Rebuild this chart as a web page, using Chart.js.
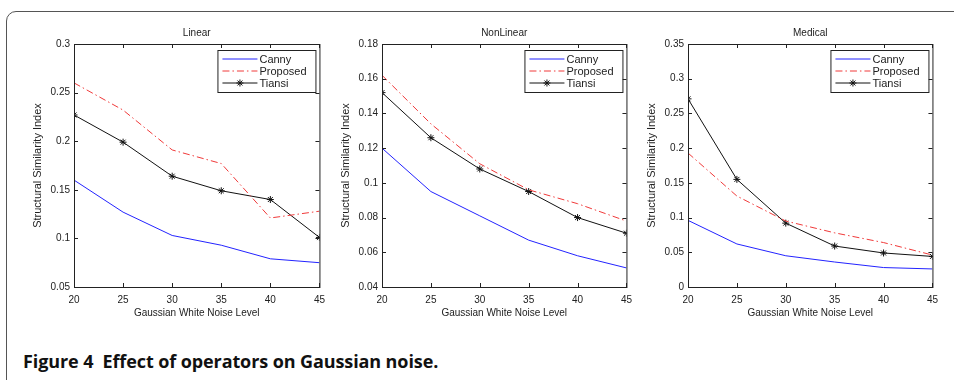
<!DOCTYPE html>
<html>
<head>
<meta charset="utf-8">
<script src="https://cdn.jsdelivr.net/npm/chart.js@4.4.1/dist/chart.umd.min.js"></script>
<style>
  html, body { margin: 0; padding: 0; background: #fff; }
  body { width: 954px; height: 380px; position: relative; overflow: hidden; }
  .frame {
    position: absolute; left: 6px; top: 11px; width: 970px; height: 400px;
    border: 1.5px solid #555; border-radius: 10px;
  }
  .panel { position: absolute; top: 14px; }
  .caption {
    position: absolute; left: 23px; top: 349px;
    font-family: "Open Sans", sans-serif; font-weight: 700; font-size: 18px;
    color: #111; letter-spacing: -0.1px;
  }
</style>
</head>
<body>
<div class="frame"></div>
<div class="panel" style="left:10px"><canvas id="linearChart" width="322" height="309"></canvas></div>
<div class="panel" style="left:318px"><canvas id="nonlinearChart" width="321" height="309"></canvas></div>
<div class="panel" style="left:624px"><canvas id="medicalChart" width="321" height="309"></canvas></div>
<div class="caption">Figure 4&nbsp;&nbsp;Effect of operators on Gaussian noise.</div>

<script>
const noiseLevels = [20, 25, 30, 35, 40, 45];
const seriesNames = ['Canny', 'Proposed', 'Tiansi'];

const linearCanny = [0.160, 0.127, 0.103, 0.093, 0.079, 0.075];
const linearProposed = [0.260, 0.232, 0.191, 0.177, 0.121, 0.128];
const linearTiansi = [0.227, 0.199, 0.164, 0.149, 0.140, 0.101];

const nonlinearCanny = [0.120, 0.095, 0.081, 0.067, 0.058, 0.051];
const nonlinearProposed = [0.162, 0.134, 0.111, 0.096, 0.088, 0.078];
const nonlinearTiansi = [0.152, 0.126, 0.108, 0.095, 0.080, 0.071];

const medicalCanny = [0.096, 0.062, 0.045, 0.036, 0.028, 0.026];
const medicalProposed = [0.193, 0.131, 0.095, 0.078, 0.064, 0.046];
const medicalTiansi = [0.271, 0.155, 0.092, 0.059, 0.049, 0.044];

const xTicks = [20, 25, 30, 35, 40, 45];
const linearYTicks = [0.05, 0.1, 0.15, 0.2, 0.25, 0.3];
const nonlinearYTicks = [0.04, 0.06, 0.08, 0.1, 0.12, 0.14, 0.16, 0.18];
const medicalYTicks = [0, 0.05, 0.1, 0.15, 0.2, 0.25, 0.3, 0.35];

const FONT = '"Liberation Sans", Arial, sans-serif';
const TEXT = '#222';

// box around the plot, inward ticks, panel title and the boxed legend
const matlabAxes = {
    id: 'matlabAxes',
    afterDatasetsDraw(chart, args, opts) {
        const ctx = chart.ctx;
        const a = chart.chartArea;
        const xs = chart.scales.x, ys = chart.scales.y;
        ctx.save();
        ctx.strokeStyle = '#222';
        ctx.lineWidth = 1;
        ctx.strokeRect(a.left + 0.5, a.top + 0.5, a.right - a.left, a.bottom - a.top);

        ctx.beginPath();
        xs.ticks.forEach(t => {
            const px = Math.round(xs.getPixelForValue(t.value)) + 0.5;
            ctx.moveTo(px, a.bottom); ctx.lineTo(px, a.bottom - 4);
            ctx.moveTo(px, a.top); ctx.lineTo(px, a.top + 4);
        });
        ys.ticks.forEach(t => {
            const py = Math.round(ys.getPixelForValue(t.value)) + 0.5;
            ctx.moveTo(a.left, py); ctx.lineTo(a.left + 4, py);
            ctx.moveTo(a.right, py); ctx.lineTo(a.right - 4, py);
        });
        ctx.stroke();

        // title
        ctx.fillStyle = TEXT;
        ctx.font = '10px ' + FONT;
        ctx.textAlign = 'center';
        ctx.textBaseline = 'middle';
        ctx.fillText(opts.title, (a.left + a.right) / 2, a.top - 11);

        // legend
        const bw = 98, bh = 42;
        const bx = a.right - bw - 4, by = a.top + 6;
        ctx.fillStyle = '#fff';
        ctx.fillRect(bx, by, bw, bh);
        ctx.strokeStyle = '#222';
        ctx.strokeRect(bx + 0.5, by + 0.5, bw, bh);
        chart.data.datasets.forEach((ds, i) => {
            const ly = by + 9 + i * 12;
            ctx.strokeStyle = ds.borderColor;
            ctx.setLineDash(ds.borderDash || []);
            ctx.beginPath();
            ctx.moveTo(bx + 5, ly); ctx.lineTo(bx + 40, ly);
            ctx.stroke();
            ctx.setLineDash([]);
            if (ds.pointStyle === 'star') {
                const r = 3.5, cx = bx + 22.5;
                ctx.beginPath();
                for (let k = 0; k < 4; k++) {
                    const ang = k * Math.PI / 4;
                    ctx.moveTo(cx - r * Math.cos(ang), ly - r * Math.sin(ang));
                    ctx.lineTo(cx + r * Math.cos(ang), ly + r * Math.sin(ang));
                }
                ctx.stroke();
            }
            ctx.fillStyle = TEXT;
            ctx.font = '11px ' + FONT;
            ctx.textAlign = 'left';
            ctx.fillText(ds.label, bx + 42, ly + 0.5);
        });
        ctx.restore();
    }
};

function toPoints(values) {
    return values.map((v, i) => ({ x: noiseLevels[i], y: v }));
}

function makeChart(id, title, canny, proposed, tiansi, yTicks) {
    new Chart(document.getElementById(id), {
        type: 'line',
        data: {
            datasets: [
                { label: seriesNames[0], data: toPoints(canny), borderColor: '#2323ff', borderWidth: 1, pointRadius: 0 },
                { label: seriesNames[1], data: toPoints(proposed), borderColor: '#f03a3a', borderWidth: 1, borderDash: [7, 3, 1.5, 3], pointRadius: 0 },
                { label: seriesNames[2], data: toPoints(tiansi), borderColor: '#111', borderWidth: 1, pointStyle: 'star', pointRadius: 3.5, pointBorderColor: '#111', pointBorderWidth: 1 }
            ]
        },
        options: {
            responsive: false,
            animation: false,
            events: [],
            layout: { padding: { top: 30, right: 12, left: 0, bottom: 0 } },
            plugins: {
                legend: { display: false },
                tooltip: { enabled: false },
                matlabAxes: { title: title }
            },
            scales: {
                x: {
                    type: 'linear',
                    min: xTicks[0],
                    max: xTicks[xTicks.length - 1],
                    afterBuildTicks: s => { s.ticks = xTicks.map(v => ({ value: v })); },
                    afterFit: s => { s.height = 36; },
                    grid: { display: false, drawTicks: false },
                    border: { display: false },
                    ticks: { padding: 7, maxRotation: 0, color: TEXT, font: { family: FONT, size: 10 }, callback: v => String(v) },
                    title: { display: true, text: 'Gaussian White Noise Level', color: TEXT, font: { family: FONT, size: 10 }, padding: { top: 0, bottom: 4 } }
                },
                y: {
                    min: yTicks[0],
                    max: yTicks[yTicks.length - 1],
                    afterBuildTicks: s => { s.ticks = yTicks.map(v => ({ value: v })); },
                    afterFit: s => { s.width = 64; },
                    grid: { display: false, drawTicks: false },
                    border: { display: false },
                    ticks: { padding: 4, color: TEXT, font: { family: FONT, size: 10 }, callback: v => String(+v.toFixed(4)) },
                    title: { display: true, text: 'Structural Similarity Index', color: TEXT, font: { family: FONT, size: 11 }, padding: { top: 21, bottom: 0 } }
                }
            }
        },
        plugins: [matlabAxes]
    });
}

makeChart('linearChart', 'Linear', linearCanny, linearProposed, linearTiansi, linearYTicks);
makeChart('nonlinearChart', 'NonLinear', nonlinearCanny, nonlinearProposed, nonlinearTiansi, nonlinearYTicks);
makeChart('medicalChart', 'Medical', medicalCanny, medicalProposed, medicalTiansi, medicalYTicks);
</script>
</body>
</html>
